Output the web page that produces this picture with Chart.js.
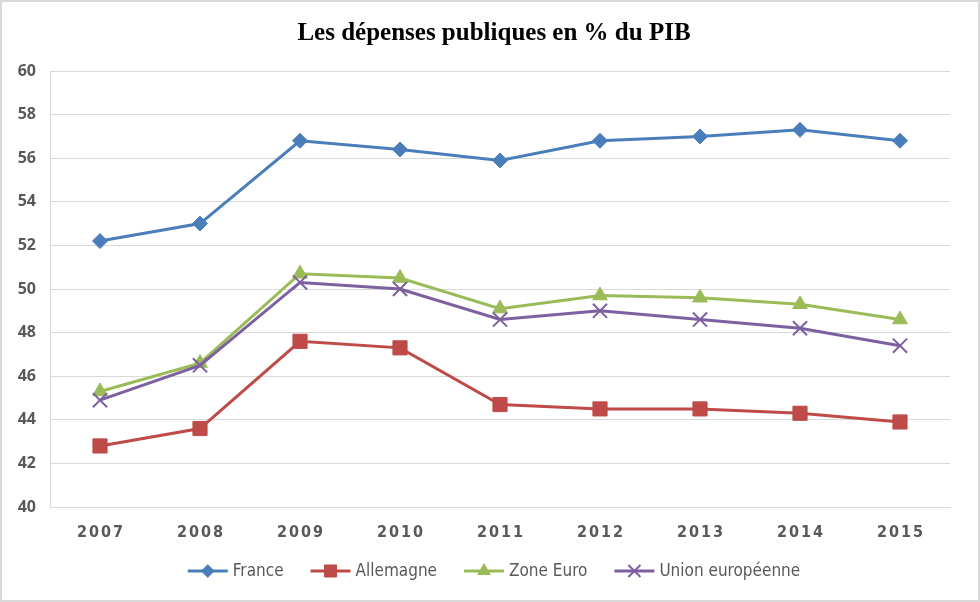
<!DOCTYPE html>
<html>
<head>
<meta charset="utf-8">
<script src="https://cdn.jsdelivr.net/npm/chart.js@4.4.1/dist/chart.umd.min.js"></script>
<style>
  html, body { margin: 0; padding: 0; background: #fff; }
  #wrap { width: 980px; height: 602px; position: relative; }
</style>
</head>
<body>
<div id="wrap"><canvas id="graphique" width="980" height="602"></canvas></div>
<script>
// données
const annees = ['2007', '2008', '2009', '2010', '2011', '2012', '2013', '2014', '2015'];
const france = [52.2, 53.0, 56.8, 56.4, 55.9, 56.8, 57.0, 57.3, 56.8];
const allemagne = [42.8, 43.6, 47.6, 47.3, 44.7, 44.5, 44.5, 44.3, 43.9];
const zoneEuro = [45.3, 46.6, 50.7, 50.5, 49.1, 49.7, 49.6, 49.3, 48.6];
const unionEuro = [44.9, 46.5, 50.3, 50.0, 48.6, 49.0, 48.6, 48.2, 47.4];
const ticksY = [40, 42, 44, 46, 48, 50, 52, 54, 56, 58, 60];

const titre = 'Les dépenses publiques en % du PIB';
const gris = '#595959';
const policeEtroite = '"Liberation Sans Narrow", "DejaVu Sans Condensed", sans-serif';

// titre, légende façon Excel et cadre
const habillage = {
    id: 'habillage',
    afterDraw(chart) {
        const ctx = chart.ctx;
        ctx.save();
        ctx.strokeStyle = '#d9d9d9';
        ctx.lineWidth = 2;
        ctx.strokeRect(1, 1, chart.width - 2, chart.height - 2);

        ctx.fillStyle = '#000';
        ctx.font = 'bold 25px "Liberation Serif", "Times New Roman", serif';
        ctx.textAlign = 'center';
        ctx.textBaseline = 'alphabetic';
        ctx.fillText(titre, 494, 40);

        ctx.font = '17px ' + policeEtroite;
        ctx.textAlign = 'left';
        ctx.textBaseline = 'middle';
        const sets = chart.data.datasets;
        const ecart = 27;
        const larg = sets.map(d => 40 + 5 + ctx.measureText(d.label).width);
        const total = larg.reduce((a, b) => a + b, 0) + ecart * (sets.length - 1);
        let x = 494 - total / 2;
        const y = 571;
        sets.forEach((d, i) => {
            ctx.strokeStyle = d.borderColor;
            ctx.lineWidth = 3;
            ctx.beginPath();
            ctx.moveTo(x, y);
            ctx.lineTo(x + 40, y);
            ctx.stroke();
            ctx.fillStyle = d.pointBackgroundColor;
            ctx.strokeStyle = d.pointBorderColor;
            ctx.lineWidth = d.pointBorderWidth;
            Chart.helpers.drawPoint(ctx, {
                pointStyle: d.pointStyle,
                radius: d.pointRadius * 0.85,
                borderWidth: d.pointBorderWidth
            }, x + 20, y);
            ctx.fillStyle = gris;
            ctx.fillText(d.label, x + 45, y + 1);
            x += larg[i] + ecart;
        });
        ctx.restore();
    }
};

const serie = (label, data, couleur, style, rayon, ordre) => ({
    label,
    data,
    borderColor: couleur,
    backgroundColor: couleur,
    pointBackgroundColor: couleur,
    pointBorderColor: couleur,
    pointStyle: style,
    pointRadius: rayon,
    pointHoverRadius: rayon,
    pointBorderWidth: style === 'crossRot' ? 2 : 1,
    borderWidth: 3,
    tension: 0,
    order: ordre
});

// espacement des lettres des années, comme dans l'original
function espacerLabels(s) {
    if (s._espace) return;
    s._espace = true;
    const orig = s.drawLabels;
    s.drawLabels = function (zone) {
        this.ctx.save();
        this.ctx.letterSpacing = '2px';
        this.ctx.translate(1, 0);
        orig.call(this, zone);
        this.ctx.restore();
    };
}

const chart = new Chart(document.getElementById('graphique'), {
    type: 'line',
    data: {
        labels: annees,
        datasets: [
            serie('France', france, '#4a7ebb', 'rectRot', 7.5, 4),
            serie('Allemagne', allemagne, '#be4b48', 'rect', 10, 3),
            serie('Zone Euro', zoneEuro, '#9bbb59', 'triangle', 8.5, 2),
            serie('Union européenne', unionEuro, '#7d60a0', 'crossRot', 10, 1)
        ]
    },
    options: {
        responsive: false,
        animation: false,
        layout: { padding: { left: 0, right: 30, top: 71, bottom: 50 } },
        plugins: {
            legend: { display: false },
            title: { display: false },
            tooltip: { enabled: false }
        },
        scales: {
            x: {
                offset: true,
                grid: { display: false, offset: true },
                border: { color: '#d9d9d9', width: 1 },
                ticks: {
                    color: gris,
                    maxRotation: 0,
                    padding: 8,
                    font: { family: policeEtroite, size: 16, weight: 'bold' }
                },
                afterFit: s => { s.height = 45; espacerLabels(s); }
            },
            y: {
                min: 40,
                max: 60,
                afterBuildTicks: s => { s.ticks = ticksY.map(v => ({ value: v })); },
                grid: { color: '#d9d9d9', lineWidth: 1, drawTicks: false },
                border: { display: true, color: '#d9d9d9' },
                ticks: {
                    color: gris,
                    padding: 14,
                    font: { family: '"Open Sans", sans-serif', size: 16, weight: 'bold' }
                },
                afterFit: s => { s.width = 50; }
            }
        }
    },
    plugins: [habillage]
});
</script>
</body>
</html>
